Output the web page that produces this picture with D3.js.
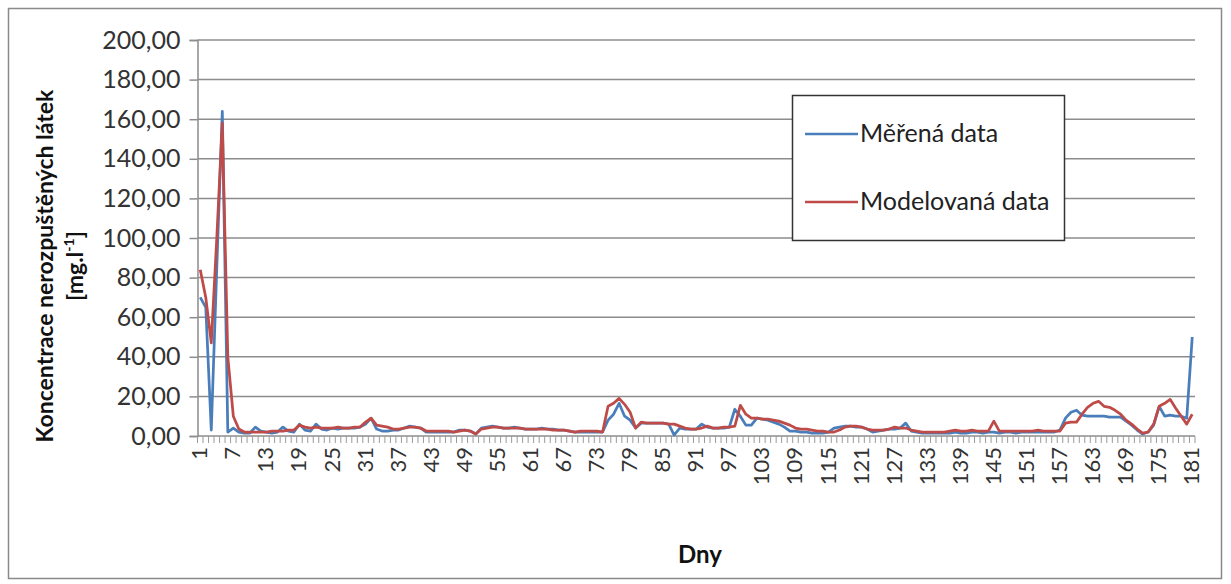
<!DOCTYPE html>
<html>
<head>
<meta charset="utf-8">
<script src="https://cdn.jsdelivr.net/npm/d3@7"></script>
<style>
  html, body { margin: 0; padding: 0; background: #fff; }
  svg { display: block; }
  text { font-family: Lato, "Open Sans", sans-serif; }
</style>
</head>
<body>
<svg id="chart" width="1231" height="584"></svg>
<script>
// Daily suspended solids concentration, measured vs. modelled (mg/l), days 1..181
const measured = [
  70, 65, 3, 85, 164, 2, 4, 2, 1.5, 1.5,
  4.5, 2.5, 2, 1.5, 2, 4.5, 2.5, 2, 6, 3,
  2.5, 6, 3.5, 3, 4, 3.5, 4, 4, 4, 4.5,
  6, 9, 3.5, 2.5, 2.5, 3, 3, 4, 5, 4.5,
  4, 2, 2, 2, 2, 2, 2, 3, 3, 2.5,
  1, 4, 4.5, 5, 4.5, 4, 4, 4.5, 4, 3.5,
  3.5, 3.5, 4, 3.5, 3.5, 3, 3, 2.5, 2, 2,
  2, 2, 2, 2, 8, 11, 16.5, 10, 8, 4,
  6.5, 6.5, 6.5, 6.5, 6.5, 6, 0.5, 4, 3.5, 3.5,
  3.5, 6, 4.5, 4, 4, 4, 4.5, 13.5, 10, 5.5,
  5.5, 9, 8.5, 8, 7, 6, 4.5, 2.5, 2.5, 2,
  2, 1.5, 1.5, 1.5, 2, 4, 4.5, 5, 5, 4.5,
  4.5, 3.5, 2, 2.5, 3, 3.5, 3.5, 4, 6.5, 2.5,
  2, 1.5, 1.5, 1.5, 1.5, 1.5, 1.5, 2, 1.5, 1.5,
  2, 2, 1.5, 2, 2, 1.5, 2, 2, 1.5, 2,
  2, 2, 2, 2, 2, 2, 3, 9, 12, 13,
  10.5, 10, 10, 10, 10, 9.5, 9.5, 9.5, 7.5, 5.5,
  3, 1, 2, 5.5, 15, 10, 10.5, 10, 10, 9,
  50
];

const modelled = [
  84, 70, 47, 100, 158, 40, 10, 3.5, 2, 2,
  2, 2, 2, 2.5, 2.5, 2.5, 3, 3, 5.5, 4.5,
  4, 4.5, 4, 4, 4, 4.5, 4, 4, 4.5, 4.5,
  7, 9, 5.5, 5, 4.5, 3.5, 3.5, 4, 4.5, 4.5,
  4, 2.5, 2.5, 2.5, 2.5, 2.5, 2, 2.5, 3, 2.5,
  1, 3.5, 4, 4.5, 4.5, 4, 4, 4, 4, 3.5,
  3.5, 3.5, 3.5, 3.5, 3, 3, 3, 2.5, 2, 2.5,
  2.5, 2.5, 2.5, 2, 15, 16.5, 19, 16, 12, 4,
  7, 6.5, 6.5, 6.5, 6.5, 6, 6, 5, 4, 3.5,
  3.5, 4, 5, 4, 4, 4.5, 4.5, 5, 15.5, 11,
  9, 9, 8.5, 8.5, 8, 7.5, 6.5, 5.5, 4, 3.5,
  3.5, 3, 2.5, 2.5, 2, 2, 3, 4.5, 5, 5,
  4.5, 3.5, 3, 3, 3, 3.5, 4.5, 4, 4, 3,
  2.5, 2, 2, 2, 2, 2, 2.5, 3, 2.5, 2.5,
  3, 2.5, 2.5, 2.5, 7.5, 2.5, 2.5, 2.5, 2.5, 2.5,
  2.5, 2.5, 3, 2.5, 2.5, 2.5, 2.5, 6.5, 7, 7,
  11, 14.5, 16.5, 17.5, 15, 14.5, 13, 11, 8, 6,
  3.5, 1.5, 2, 6, 15, 16.5, 18.5, 14, 10, 6,
  11
];

const days = d3.range(1, 182);
const yTicks = d3.range(0, 201, 20);
const xLabelDays = d3.range(1, 182, 6);

const seriesNames = ["Měřená data", "Modelovaná data"];
const seriesColors = ["#4a7ebb", "#be4b48"];
const yTitle = "Koncentrace nerozpuštěných látek";
const xTitle = "Dny";

const svg = d3.select("#chart");

// outer chart frame
svg.append("rect")
  .attr("x", 8.5).attr("y", 8.5)
  .attr("width", 1213).attr("height", 570)
  .attr("fill", "#fff").attr("stroke", "#8a8a8a").attr("stroke-width", 1.5);

const plot = { left: 197.5, right: 1195, top: 40, bottom: 436 };

const x = d3.scaleBand().domain(days).range([plot.left, plot.right]).padding(0);
const cx = d => x(d) + x.bandwidth() / 2;
const y = d3.scaleLinear().domain([0, 200]).range([plot.bottom, plot.top]);

// horizontal gridlines
svg.append("g").selectAll("line")
  .data(yTicks.filter(v => v > 0))
  .join("line")
  .attr("x1", plot.left).attr("x2", plot.right)
  .attr("y1", d => y(d)).attr("y2", d => y(d))
  .attr("stroke", "#8c8c8c").attr("stroke-width", 1.5);

// y axis
const fmt = v => d3.format(".2f")(v).replace(".", ",");
const yAxis = svg.append("g")
  .attr("transform", `translate(${plot.left},0)`)
  .call(d3.axisLeft(y).tickValues(yTicks).tickFormat(fmt).tickSize(8).tickPadding(9));
yAxis.select(".domain").attr("stroke", "#8c8c8c").attr("stroke-width", 1.5);
yAxis.selectAll(".tick line").attr("stroke", "#8c8c8c").attr("stroke-width", 1.5);
yAxis.selectAll(".tick text")
  .attr("font-size", 25).attr("fill", "#333").style("font-family", "Lato, sans-serif");

// x axis baseline and category tick marks (between categories)
svg.append("line")
  .attr("x1", plot.left).attr("x2", plot.right)
  .attr("y1", plot.bottom).attr("y2", plot.bottom)
  .attr("stroke", "#8c8c8c").attr("stroke-width", 1.5);
const boundaries = days.map(d => x(d)).concat([x(days[days.length - 1]) + x.bandwidth()]);
svg.append("g").selectAll("line")
  .data(boundaries)
  .join("line")
  .attr("x1", d => d).attr("x2", d => d)
  .attr("y1", plot.bottom).attr("y2", plot.bottom + 7)
  .attr("stroke", "#9a9a9a").attr("stroke-width", 1);

// x tick labels, rotated
svg.append("g").selectAll("text")
  .data(xLabelDays)
  .join("text")
  .attr("transform", d => `translate(${cx(d) + 7},447) rotate(-90)`)
  .attr("text-anchor", "end")
  .attr("font-size", 22)
  .attr("fill", "#333")
  .text(d => d);

// series lines
const line = d3.line().x((v, i) => cx(days[i])).y(v => y(v));
[measured, modelled].forEach((vals, k) => {
  svg.append("path")
    .datum(vals)
    .attr("d", line)
    .attr("fill", "none")
    .attr("stroke", seriesColors[k])
    .attr("stroke-width", 2.75)
    .attr("stroke-linejoin", "round");
});

// axis titles
const yt = svg.append("text")
  .attr("transform", "translate(53,266) rotate(-90)")
  .attr("text-anchor", "middle")
  .attr("font-size", 23).attr("font-weight", "bold").attr("fill", "#111");
yt.append("tspan").attr("x", 0).attr("dy", 0).text(yTitle);
const yt2 = svg.append("text")
  .attr("transform", "translate(83,266) rotate(-90)")
  .attr("text-anchor", "middle")
  .attr("font-size", 23).attr("font-weight", "bold").attr("fill", "#111");
yt2.append("tspan").text("[mg.l");
yt2.append("tspan").attr("font-size", 14).attr("dy", -9).text("-1");
yt2.append("tspan").attr("dy", 9).text("]");

svg.append("text")
  .attr("x", 700).attr("y", 563)
  .attr("text-anchor", "middle")
  .attr("font-size", 24).attr("font-weight", "bold").attr("fill", "#111")
  .text(xTitle);

// legend
const lg = svg.append("g");
lg.append("rect")
  .attr("x", 792.5).attr("y", 95.5)
  .attr("width", 272).attr("height", 145)
  .attr("fill", "#fff").attr("stroke", "#333").attr("stroke-width", 1.5);
const legendRows = [134, 202];
seriesNames.forEach((name, k) => {
  lg.append("line")
    .attr("x1", 805).attr("x2", 858)
    .attr("y1", legendRows[k]).attr("y2", legendRows[k])
    .attr("stroke", seriesColors[k]).attr("stroke-width", 2.5);
  lg.append("text")
    .attr("x", 860).attr("y", legendRows[k] + 8)
    .attr("font-size", 25).attr("fill", "#222")
    .text(name);
});
</script>
</body>
</html>
